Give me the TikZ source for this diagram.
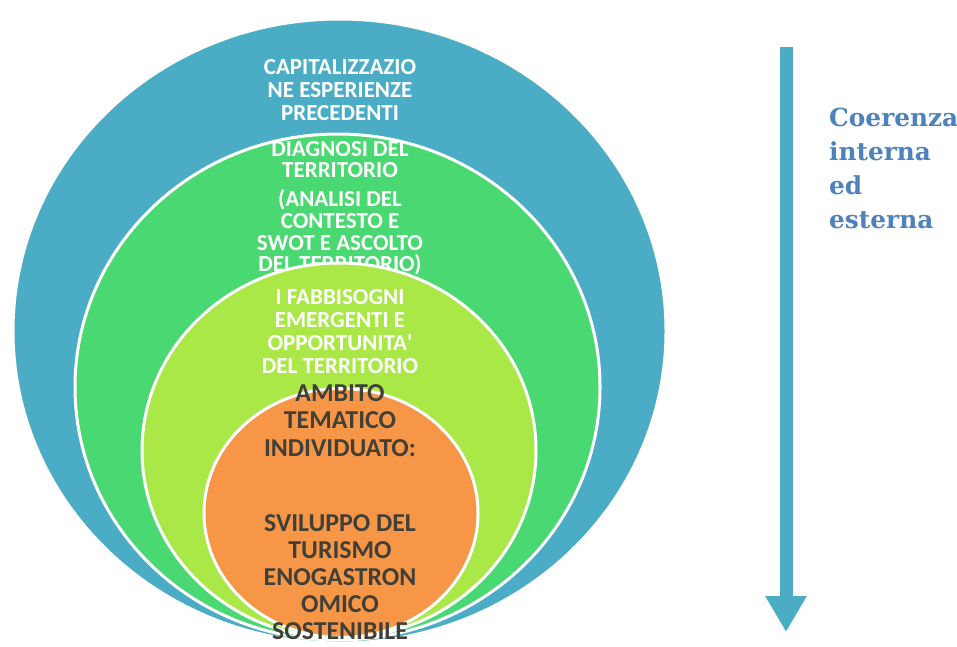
\documentclass[tikz,border=0pt]{standalone}
\usepackage{fontspec}
\setmainfont{Carlito}
\newfontfamily\serifbold{DejaVu Serif}
\usetikzlibrary{shapes.geometric,arrows.meta}
\definecolor{ringblue}{RGB}{75,172,198}
\definecolor{ringgreen}{RGB}{74,216,114}
\definecolor{ringlime}{RGB}{170,232,72}
\definecolor{ringorange}{RGB}{247,150,70}
\definecolor{darktxt}{RGB}{64,64,56}
\definecolor{sidetxt}{RGB}{79,129,189}
\begin{document}
\begin{tikzpicture}[x=1pt,y=-1pt,
  ring/.style={ellipse,draw=white,line width=3pt,inner sep=0pt},
  wtext/.style={text=white,font=\fontsize{23}{23}\selectfont\bfseries,align=center,inner sep=0pt},
  dtext/.style={text=darktxt,font=\fontsize{25.8}{27.5}\selectfont\bfseries,align=center,inner sep=0pt},
]
\useasboundingbox (0,0) rectangle (957,646);
\fill[white] (0,0) rectangle (957,646);
\node[ring,fill=ringblue,minimum width=653pt,minimum height=624pt] (blue) at (339.5,331) {};
\node[wtext] (t1) at (340,90) {CAPITALIZZAZIO\\NE ESPERIENZE\\PRECEDENTI};
\node[ring,fill=ringgreen,minimum width=525pt,minimum height=506pt] (green) at (337.5,387) {};
\node[wtext,font=\fontsize{23}{21.5}\selectfont\bfseries] (t2a) at (340,159.5) {DIAGNOSI DEL\\TERRITORIO};
\node[wtext,font=\fontsize{23}{21.7}\selectfont\bfseries] (t2b) at (340,232.5) {(ANALISI DEL\\CONTESTO E\\SWOT E ASCOLTO\\DEL TERRITORIO)};
\node[ring,fill=ringlime,minimum width=394pt,minimum height=375pt] (lime) at (339,450.5) {};
\node[wtext] (t3) at (340,331.5) {I FABBISOGNI\\EMERGENTI E\\OPPORTUNITA\textquotesingle\\DEL TERRITORIO};
\node[ring,fill=ringorange,minimum width=274pt,minimum height=249pt] (orange) at (341,513) {};
\node[dtext] (t4a) at (340,420.5) {AMBITO\\TEMATICO\\INDIVIDUATO:};
\node[dtext,font=\fontsize{25.8}{27}\selectfont\bfseries] (t4b) at (340,577) {SVILUPPO DEL\\TURISMO\\ENOGASTRON\\OMICO\\SOSTENIBILE};
\coordinate (atop) at (786,47);
\coordinate (abot) at (786,632);
\draw[ringblue,line width=13pt,-{Triangle[width=39pt,length=36pt]}] (atop) -- (abot);
\node[text=sidetxt,font=\fontsize{24.8}{34}\selectfont\serifbold\bfseries,align=left,anchor=north west,inner sep=0pt] (side) at (829,108) {Coerenza\\interna\\ed\\esterna};
\end{tikzpicture}
\end{document}
